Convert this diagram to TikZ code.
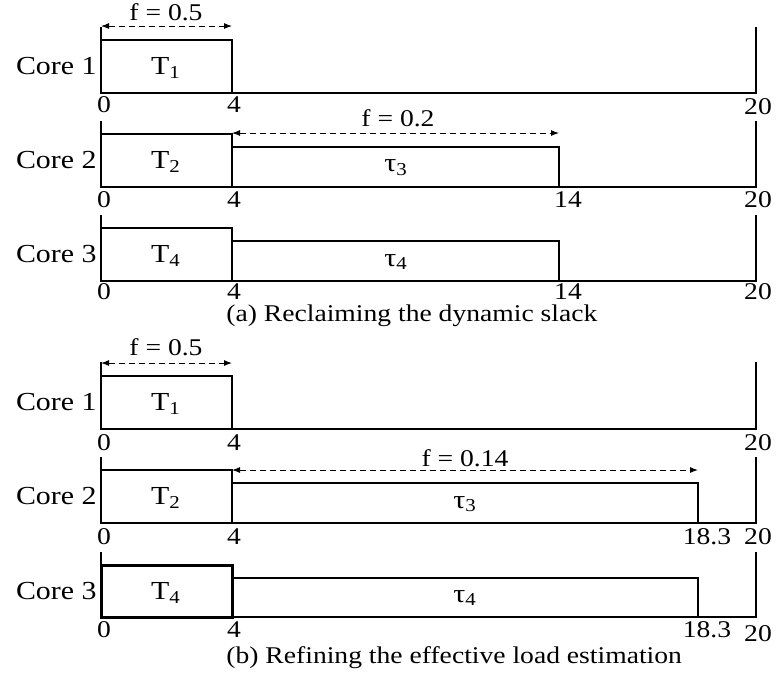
\documentclass[tikz,border=0pt]{standalone}
\usepackage{fontspec}
\setmainfont[FakeStretch=1.15]{Liberation Serif}
\usetikzlibrary{arrows.meta}

\begin{document}
\begin{tikzpicture}[x=0.5pt,y=-0.5pt]
\tikzstyle{lbl}=[inner sep=0pt,font=\fontsize{13}{15}\selectfont]
\tikzstyle{task}=[inner sep=0pt,font=\fontsize{13}{15}\selectfont]
\tikzstyle{tk}=[inner sep=0pt,font=\fontsize{12}{14}\selectfont]
\tikzstyle{slot}=[draw=black,line width=1pt]
\tikzstyle{fdim}=[densely dashed,line width=0.5pt,{Latex[length=4pt,width=3pt]}-{Latex[length=4pt,width=3pt]}]
\useasboundingbox (0,0) rectangle (782,677);

% (a) Reclaiming the dynamic slack
\draw[slot] (101,27) -- (101,93) -- (756,93) -- (756,27);
\draw[slot] (101,40) rectangle (232,93);
\node[lbl,anchor=east] (core1a) at (97,66) {Core 1};
\node[task] (t1a) at (166,68) {T\textsubscript{1}};
\coordinate (f1al) at (101,26);
\coordinate (f1ar) at (232,26);
\draw[fdim] (f1al) -- (f1ar);
\node[tk] (f1a) at (166,12) {f = 0.5};
\node[tk] (x0a1) at (104,105) {0};
\node[tk] (x4a1) at (234,105) {4};
\node[tk] (x20a1) at (758,107) {20};

\draw[slot] (101,121) -- (101,187) -- (756,187) -- (756,121);
\draw[slot] (101,134) rectangle (232,187);
\draw[slot] (232,147) rectangle (559,187);
\node[lbl,anchor=east] (core2a) at (97,160) {Core 2};
\node[task] (t2a) at (166,162) {T\textsubscript{2}};
\node[task] (tau3a) at (396,168) {τ\textsubscript{3}};
\coordinate (f2al) at (232,133);
\coordinate (f2ar) at (559,133);
\draw[fdim] (f2al) -- (f2ar);
\node[tk] (f2a) at (398,118) {f = 0.2};
\node[tk] (x0a2) at (104,200) {0};
\node[tk] (x4a2) at (234,200) {4};
\node[tk] (x14a2) at (568,200) {14};
\node[tk] (x20a2) at (758,200) {20};

\draw[slot] (101,215) -- (101,281) -- (756,281) -- (756,215);
\draw[slot] (101,228) rectangle (232,281);
\draw[slot] (232,241) rectangle (559,281);
\node[lbl,anchor=east] (core3a) at (97,254) {Core 3};
\node[task] (t4a) at (166,256) {T\textsubscript{4}};
\node[task] (tau4a) at (396,262) {τ\textsubscript{4}};
\node[tk] (x0a3) at (104,292) {0};
\node[tk] (x4a3) at (234,292) {4};
\node[tk] (x14a3) at (568,292) {14};
\node[tk] (x20a3) at (758,292) {20};

\node[tk,anchor=west] (capa) at (226,316) {(a) Reclaiming the dynamic slack};

% (b) Refining the effective load estimation
\draw[slot] (101,362) -- (101,429) -- (756,429) -- (756,362);
\draw[slot] (101,376) rectangle (232,429);
\node[lbl,anchor=east] (core1b) at (97,402) {Core 1};
\node[task] (t1b) at (166,404) {T\textsubscript{1}};
\coordinate (f1bl) at (101,363);
\coordinate (f1br) at (232,363);
\draw[fdim] (f1bl) -- (f1br);
\node[tk] (f1b) at (166,347) {f = 0.5};
\node[tk] (x0b1) at (104,443) {0};
\node[tk] (x4b1) at (234,443) {4};
\node[tk] (x20b1) at (758,443) {20};

\draw[slot] (101,457) -- (101,523) -- (756,523) -- (756,457);
\draw[slot] (101,470) rectangle (232,523);
\draw[slot] (232,483) rectangle (698,523);
\node[lbl,anchor=east] (core2b) at (97,496) {Core 2};
\node[task] (t2b) at (166,498) {T\textsubscript{2}};
\node[task] (tau3b) at (465,504) {τ\textsubscript{3}};
\coordinate (f2bl) at (232,470);
\coordinate (f2br) at (698,470);
\draw[fdim] (f2bl) -- (f2br);
\node[tk] (f2b) at (465,458) {f = 0.14};
\node[tk] (x0b2) at (104,537) {0};
\node[tk] (x4b2) at (234,537) {4};
\node[tk] (x18b2) at (707,537) {18.3};
\node[tk] (x20b2) at (758,537) {20};

\draw[slot] (101,552) -- (101,617) -- (756,617) -- (756,552);
\draw[slot,line width=1.5pt] (101,565) rectangle (232,617);
\draw[slot] (232,578) rectangle (698,617);
\node[lbl,anchor=east] (core3b) at (97,591) {Core 3};
\node[task] (t4b) at (166,593) {T\textsubscript{4}};
\node[task] (tau4b) at (465,598) {τ\textsubscript{4}};
\node[tk] (x0b3) at (104,630) {0};
\node[tk] (x4b3) at (234,630) {4};
\node[tk] (x18b3) at (707,630) {18.3};
\node[tk] (x20b3) at (758,634) {20};

\node[tk,anchor=west] (capb) at (226,658) {(b) Refining the effective load estimation};
\end{tikzpicture}
\end{document}
